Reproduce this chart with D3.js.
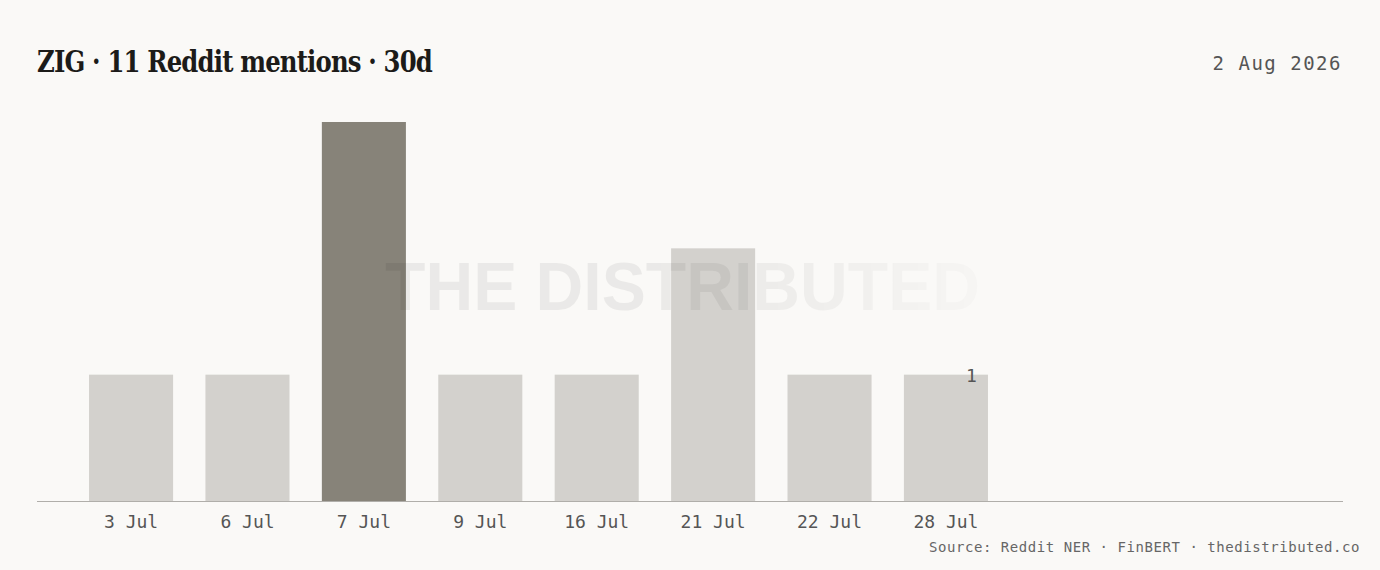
<!DOCTYPE html>
<html><head><meta charset="utf-8">
<script src="https://cdn.jsdelivr.net/npm/d3@7/dist/d3.min.js"></script>
<style>
html,body{margin:0;padding:0;background:#faf9f7;}
svg{display:block;}
</style></head>
<body>
<svg id="c" width="1380" height="570"></svg>
<script>
const categories = ["3 Jul","6 Jul","7 Jul","9 Jul","16 Jul","21 Jul","22 Jul","28 Jul"];
const mentions = [1,1,3,1,1,2,1,1];
const highlight = "7 Jul";
const titleText = "ZIG · 11 Reddit mentions · 30d";
const dateText = "2 Aug 2026";
const sourceText = "Source: Reddit NER · FinBERT · thedistributed.co";
const watermarkText = "THE DISTRIBUTED";

const svg = d3.select("#c");
const W = 1380, H = 570;
const left = 37, right = 1343, base = 501;

svg.append("rect").attr("width",W).attr("height",H).attr("fill","#faf9f7");

const x = d3.scaleBand().domain(categories).range([left, 1040]).paddingInner(0.278).paddingOuter(0.447);
const y = d3.scaleLinear().domain([0,3]).range([base, 122]);

svg.append("g").selectAll("rect").data(categories).join("rect")
  .attr("x", d => x(d))
  .attr("width", x.bandwidth())
  .attr("y", (d,i) => y(mentions[i]))
  .attr("height", (d,i) => base - y(mentions[i]))
  .attr("fill", d => d === highlight ? "#878379" : "#d3d1cd");

// axis
const ax = svg.append("g").attr("transform",`translate(0,${base})`)
  .call(d3.axisBottom(x).tickSize(0).tickPadding(11));
ax.select(".domain").remove();
ax.selectAll("text").attr("font-family","'DejaVu Sans Mono', monospace").attr("font-size",18)
  .attr("fill","#555").attr("dy","0.9em");
svg.append("line").attr("x1",left).attr("x2",right).attr("y1",base+0.5).attr("y2",base+0.5)
  .attr("stroke","#b0aeaa").attr("stroke-width",1.2);

// watermark
const defs = svg.append("defs");
const grad = defs.append("linearGradient").attr("id","wm").attr("x1","0").attr("x2","1").attr("y1","0").attr("y2","0");
grad.append("stop").attr("offset","0").attr("stop-color","#000").attr("stop-opacity",0.065);
grad.append("stop").attr("offset","0.55").attr("stop-color","#000").attr("stop-opacity",0.06);
grad.append("stop").attr("offset","1").attr("stop-color","#000").attr("stop-opacity",0.015);
defs.append("filter").attr("id","bl").append("feGaussianBlur").attr("stdDeviation",0.6);
svg.append("text").attr("x",385).attr("y",310)
  .attr("font-family","'Liberation Sans', Arial, sans-serif").attr("font-weight","bold")
  .attr("font-size",69).attr("textLength",595).attr("lengthAdjust","spacingAndGlyphs")
  .attr("fill","url(#wm)").attr("filter","url(#bl)").text(watermarkText);

// value label on last bar
const lastCat = categories[categories.length-1];
svg.append("text").attr("x", x(lastCat)+x.bandwidth()-11).attr("y", y(mentions[mentions.length-1]))
  .attr("dy","0.4em").attr("text-anchor","end")
  .attr("font-family","'DejaVu Sans Mono', monospace").attr("font-size",18).attr("fill","#555")
  .text(mentions[mentions.length-1]);

// title
svg.append("text").attr("x",37).attr("y",72)
  .attr("font-family","'DejaVu Serif', 'Liberation Serif', serif").attr("font-weight","bold")
  .attr("font-size",29).attr("letter-spacing",-1).attr("fill","#1c1b19")
  .attr("textLength",395).attr("lengthAdjust","spacingAndGlyphs").text(titleText);

svg.append("text").attr("x",1342).attr("y",70).attr("text-anchor","end")
  .attr("font-family","'DejaVu Sans Mono', monospace").attr("font-size",19).attr("letter-spacing",1.5)
  .attr("fill","#555").text(dateText);

svg.append("text").attr("x",1360).attr("y",552).attr("text-anchor","end")
  .attr("font-family","'DejaVu Sans Mono', monospace").attr("font-size",14).attr("letter-spacing",0.55)
  .attr("fill","#666").text(sourceText);
</script>
</body></html>
